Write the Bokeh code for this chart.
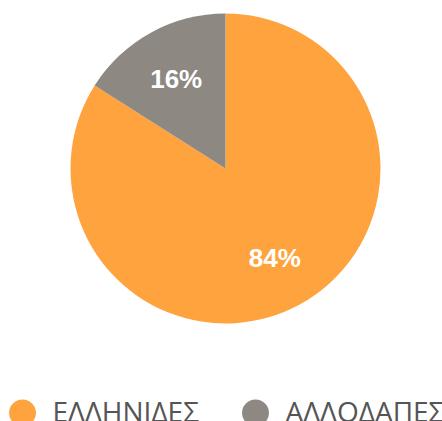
import math
from bokeh.plotting import figure
from bokeh.models import Range1d, ColumnDataSource
from bokeh.core.properties import value
from bokeh.embed import file_html
from bokeh.resources import INLINE

categories = ["ΕΛΛΗΝΙΔΕΣ", "ΑΛΛΟΔΑΠΕΣ"]
shares = [84, 16]
colors = ["#FFA33F", "#8E8883"]

W, H = 442, 421
cx, cy, R = 225, H - 168, 155

p = figure(width=W, height=H, output_backend="svg", toolbar_location=None,
           x_range=Range1d(0, W), y_range=Range1d(0, H), min_border=0)
p.axis.visible = False
p.grid.visible = False
p.outline_line_color = None
p.background_fill_color = "white"
p.border_fill_color = "white"

total = sum(shares)
starts, ends, lx, ly, labels = [], [], [], [], []
a = math.pi / 2
for s in shares:
    span = 2 * math.pi * s / total
    starts.append(a)
    ends.append(a - span)
    mid = a - span / 2
    lx.append(cx + 0.66 * R * math.cos(mid))
    ly.append(cy + 0.66 * R * math.sin(mid))
    labels.append(f"{s}%")
    a -= span

src = ColumnDataSource(dict(start=starts, end=ends, color=colors, lx=lx, ly=ly, label=labels))
p.wedge(x=cx, y=cy, radius=R, start_angle="start", end_angle="end", direction="clock",
        fill_color="color", line_color=None, source=src)
p.text(x="lx", y="ly", text="label", source=src, text_color="white",
       text_font=value("Liberation Sans"), text_font_style="bold", text_font_size="26px",
       text_align="center", text_baseline="middle")

# legend
leg_x = [22, 255]
leg_y = [H - 412.5, H - 412.5]
p.scatter(x=leg_x, y=leg_y, size=27, marker="circle", fill_color=colors, line_color=None)
p.text(x=[x + 30 for x in leg_x], y=[H - 410, H - 410], text=categories, text_color="#555555",
       text_font=value("Open Sans"), text_font_size="28px", text_baseline="middle")

open("out.html", "w").write(file_html(p, INLINE))
